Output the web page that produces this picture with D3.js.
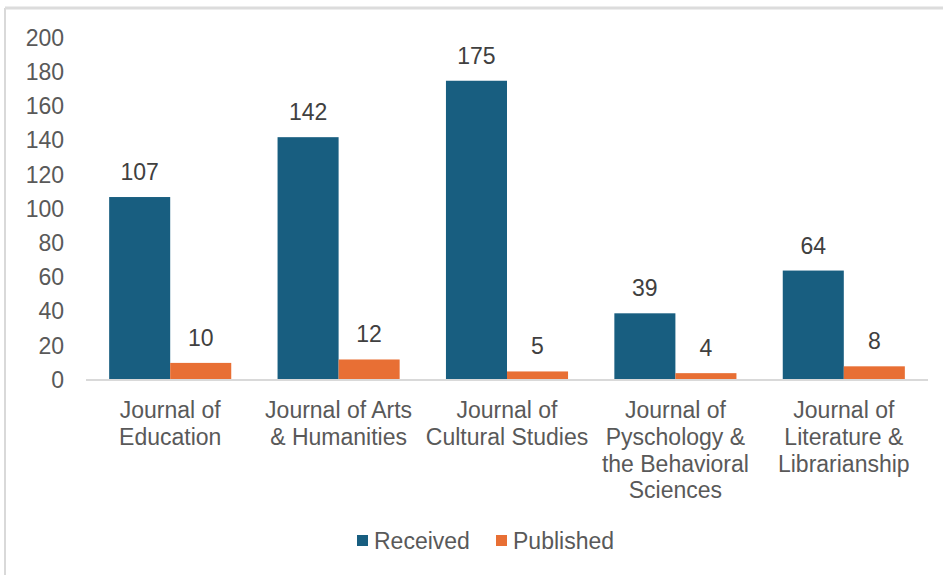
<!DOCTYPE html>
<html>
<head>
<meta charset="utf-8">
<script src="https://cdn.jsdelivr.net/npm/d3@7"></script>
<style>
  html, body { margin: 0; padding: 0; background: #fff; }
  svg { display: block; font-family: "Liberation Sans", Arial, sans-serif; }
  .tick text { fill: #595959; font-size: 23px; }
</style>
</head>
<body>
<div id="chart"></div>
<script>
// journals on the x axis, two series per journal
const categories = [
  ["Journal of", "Education"],
  ["Journal of Arts", "& Humanities"],
  ["Journal of", "Cultural Studies"],
  ["Journal of", "Pyschology &", "the Behavioral", "Sciences"],
  ["Journal of", "Literature &", "Librarianship"]
];
const received = [107, 142, 175, 39, 64];
const published = [10, 12, 5, 4, 8];
const seriesNames = ["Received", "Published"];
const seriesColors = ["#185e80", "#e86f34"];
const yTicks = [0, 20, 40, 60, 80, 100, 120, 140, 160, 180, 200];

const W = 943, H = 575;
const MARGIN = { top: 38, right: 15, bottom: 195, left: 86 };
const innerW = W - MARGIN.left - MARGIN.right;
const innerH = H - MARGIN.top - MARGIN.bottom;

const svg = d3.select("#chart").append("svg")
  .attr("width", W).attr("height", H);

// outer frame (left + top edge of the screenshot card)
svg.append("line").attr("x1", 5).attr("x2", 5).attr("y1", 8).attr("y2", H)
  .attr("stroke", "#d9d9d9").attr("stroke-width", 2);
svg.append("line").attr("x1", 5).attr("x2", W).attr("y1", 8).attr("y2", 8)
  .attr("stroke", "#dcdcdc").attr("stroke-width", 3);

const g = svg.append("g").attr("transform", `translate(${MARGIN.left},${MARGIN.top})`);

const idx = d3.range(categories.length);
const x0 = d3.scaleBand().domain(idx).range([0, innerW]).paddingInner(0.275).paddingOuter(0.1375);
const x1 = d3.scaleBand().domain([0, 1]).range([0, x0.bandwidth()]);
const y = d3.scaleLinear().domain([0, 200]).range([innerH, 0]);

// y axis (no line, no ticks)
const yAxis = g.append("g").call(d3.axisLeft(y).tickValues(yTicks).tickSize(0).tickPadding(22));
yAxis.select(".domain").remove();

// bars
const rows = idx.map(i => [received[i], published[i]]);
const grp = g.selectAll(".cat").data(rows).join("g")
  .attr("class", "cat")
  .attr("transform", (d, i) => `translate(${x0(i)},0)`);

grp.selectAll("rect").data(d => d).join("rect")
  .attr("x", (d, j) => x1(j))
  .attr("y", d => y(d))
  .attr("width", x1.bandwidth())
  .attr("height", d => innerH - y(d))
  .attr("fill", (d, j) => seriesColors[j]);

grp.selectAll("text.val").data(d => d).join("text")
  .attr("class", "val")
  .attr("x", (d, j) => x1(j) + x1.bandwidth() / 2)
  .attr("y", d => y(d) - 17)
  .attr("text-anchor", "middle")
  .attr("fill", "#404040")
  .attr("font-size", 23)
  .text(d => d);

// baseline
g.append("line").attr("x1", 0).attr("x2", innerW).attr("y1", innerH).attr("y2", innerH)
  .attr("stroke", "#d9d9d9").attr("stroke-width", 2);

// category labels
const lab = g.selectAll(".catlab").data(categories).join("text")
  .attr("class", "catlab")
  .attr("text-anchor", "middle")
  .attr("fill", "#595959")
  .attr("font-size", 23)
  .attr("transform", (d, i) => `translate(${x0(i) + x0.bandwidth() / 2},${innerH + 38})`);
lab.selectAll("tspan").data(d => d).join("tspan")
  .attr("x", 0)
  .attr("y", (d, k) => k * 26.8)
  .text(d => d);

// legend
const legend = svg.append("g").attr("transform", "translate(357,549)");
const legItems = [{ x: 0, name: seriesNames[0], c: seriesColors[0] }, { x: 139, name: seriesNames[1], c: seriesColors[1] }];
const li = legend.selectAll("g").data(legItems).join("g").attr("transform", d => `translate(${d.x},0)`);
li.append("rect").attr("x", 0).attr("y", -14).attr("width", 11).attr("height", 11).attr("fill", d => d.c);
li.append("text").attr("x", 17).attr("y", 0).attr("fill", "#595959").attr("font-size", 23).text(d => d.name);
</script>
</body>
</html>
